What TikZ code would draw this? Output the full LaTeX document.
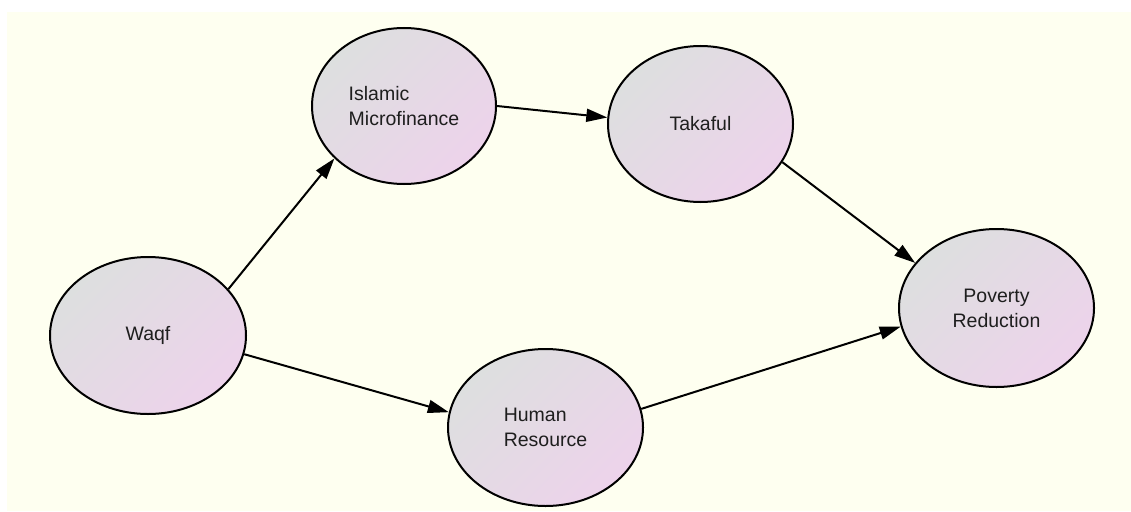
\documentclass[tikz,border=0pt]{standalone}
\usepackage{fontspec}
\setmainfont{Liberation Sans}
\usetikzlibrary{arrows.meta,shapes.geometric}
\definecolor{bgcream}{RGB}{254,255,240}
\definecolor{nodegray}{RGB}{221,223,223}
\definecolor{nodepink}{RGB}{237,211,235}
\definecolor{textdark}{RGB}{30,30,30}

\begin{document}
\begin{tikzpicture}[x=1pt,y=1pt,yscale=-1,
  concept/.style={draw,ellipse,line width=2pt,inner sep=0pt,
    top color=nodegray,bottom color=nodepink,shading angle=45,
    text=textdark,font=\fontsize{19.5}{25}\selectfont},
  link/.style={line width=2pt,-{Triangle[length=21pt,width=13pt]}}]

%Background
\useasboundingbox (0,0) rectangle (1131,511);
\fill [white] (0,0) rectangle (1131,511);
\fill [bgcream] (7,12) rectangle (1131,511);

%Shape: Ellipse
\node (waqf) at (148,335.5) [concept,minimum width=196pt,minimum height=157pt] {Waqf};
%Shape: Ellipse
\node (micro) at (404,106) [concept,align=left,minimum width=184pt,minimum height=156pt] {Islamic\\Microfinance};
%Shape: Ellipse
\node (takaful) at (700.5,124) [concept,minimum width=185pt,minimum height=156pt] {Takaful};
%Shape: Ellipse
\node (human) at (545.5,427.5) [concept,align=left,minimum width=195pt,minimum height=157pt] {Human\\Resource};
%Shape: Ellipse
\node (poverty) at (996.5,308) [concept,align=center,minimum width=195pt,minimum height=158pt] {Poverty\\Reduction};

%Straight Lines
\draw [link] (waqf.30) -- (micro.217);
%Straight Lines
\draw [link] (micro.0) -- (takaful.176);
%Straight Lines
\draw [link] (takaful.-25) -- (poverty.151);
%Straight Lines
\draw [link] (waqf.-11) -- (human.171);
%Straight Lines
\draw [link] (human.11) -- (poverty.191);

\end{tikzpicture}
\end{document}
